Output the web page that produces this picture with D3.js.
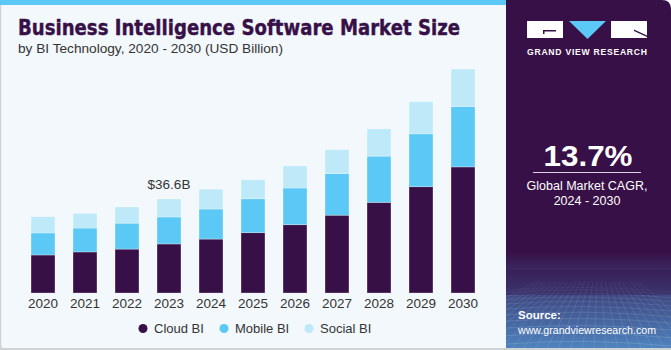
<!doctype html>
<html lang="en">

<head>
    <meta charset="utf-8">
    <script src="https://d3js.org/d3.v7.min.js"></script>
    <title>Business Intelligence Software Market Size</title>
    <style>
        body {
            margin: 0;
            background: #fff;
        }

        svg {
            display: block;
            font-family: "Liberation Sans", Arial, sans-serif;
        }
    </style>
</head>

<body>
    <svg id="svg" width="671" height="350"></svg>

    <script>
        // data (USD Billion)
        const years = ["2020", "2021", "2022", "2023", "2024", "2025", "2026", "2027", "2028", "2029", "2030"];
        const cloudBI = [14.8, 16.0, 17.1, 19.1, 21.0, 23.5, 26.6, 30.3, 35.3, 41.4, 49.1];
        const mobileBI = [8.6, 9.3, 10.1, 10.5, 11.7, 13.2, 14.3, 16.2, 18.0, 20.6, 23.5];
        const socialBI = [6.3, 5.7, 6.3, 7.0, 7.7, 7.4, 8.6, 9.3, 10.6, 12.5, 14.6];
        const seriesNames = ["Cloud BI", "Mobile BI", "Social BI"];
        const seriesColors = ["#371047", "#5bc8f5", "#bde9f9"];
        const callout = { year: "2023", label: "$36.6B" };

        const width = 671, height = 350;
        const panelX = 506;

        let svg = d3.select("#svg");

        // ---- backgrounds ----
        svg.append("rect")
            .attr("x", 0).attr("y", 0)
            .attr("width", panelX + 10).attr("height", height)
            .attr("fill", "#f3f8fc");
        svg.append("rect")
            .attr("x", 0).attr("y", 0)
            .attr("width", panelX).attr("height", 5)
            .attr("fill", "#5bc8f5");
        // faint border left and bottom
        svg.append("path")
            .attr("d", `M0.5,5 V345 Q0.5,349 5,349 H${panelX}`)
            .attr("fill", "none")
            .attr("stroke", "#cfd3d6")
            .attr("stroke-width", 1.5);

        // right dark panel
        let defs = svg.append("defs");
        let grad = defs.append("linearGradient")
            .attr("id", "panelGrad")
            .attr("x1", 0).attr("y1", 0).attr("x2", 0).attr("y2", 1);
        grad.append("stop").attr("offset", "0%").attr("stop-color", "#371047");
        grad.append("stop").attr("offset", "72%").attr("stop-color", "#371047");
        grad.append("stop").attr("offset", "82%").attr("stop-color", "#3d3f78");
        grad.append("stop").attr("offset", "100%").attr("stop-color", "#4f86c0");

        defs.append("clipPath").attr("id", "panelClip")
            .append("path")
            .attr("d", `M${panelX},0 H${width - 9} Q${width},0 ${width},9 V${height - 2} H${panelX} Z`);

        let panel = svg.append("g").attr("clip-path", "url(#panelClip)");
        panel.append("rect")
            .attr("x", panelX).attr("y", 0)
            .attr("width", width - panelX).attr("height", height)
            .attr("fill", "url(#panelGrad)");

        // the grid texture at the bottom of the panel
        let grid = panel.append("g")
            .attr("stroke", "#c9dcf5")
            .attr("stroke-width", 0.6)
            .attr("fill", "none");
        for (let i = 0; i < 14; i++) {
            let y = 290 + i * i * 0.32 + i * 2.2;
            grid.append("path")
                .attr("d", `M${panelX},${y} Q${panelX + 80},${y - 6} ${width},${y + 2}`)
                .attr("opacity", 0.12 + i * 0.02);
        }
        for (let i = -6; i < 20; i++) {
            let x0 = panelX + i * 12;
            grid.append("line")
                .attr("x1", 588 + (x0 - 588) * 0.35).attr("y1", 282)
                .attr("x2", x0 - 20).attr("y2", height)
                .attr("opacity", 0.22);
        }
        panel.append("rect")
            .attr("x", panelX).attr("y", 270)
            .attr("width", width - panelX).attr("height", 25)
            .attr("fill", "#371047")
            .attr("opacity", 0.35);

        // bottom gray line under the whole picture
        svg.append("rect")
            .attr("x", 0).attr("y", height - 2)
            .attr("width", width).attr("height", 2)
            .attr("fill", "#cfd3d6");

        // ---- logo ----
        let logo = svg.append("g");
        logo.append("rect").attr("x", 527).attr("y", 21).attr("width", 36).attr("height", 17).attr("fill", "#fff");
        logo.append("path").attr("d", "M543,30 H556 V31.5 H544.5 V34 H543 Z").attr("fill", "#371047");
        logo.append("path").attr("d", "M569,21 L606,21 L587.5,39 Z").attr("fill", "#5bc8f5");
        logo.append("rect").attr("x", 611).attr("y", 21).attr("width", 36).attr("height", 17).attr("fill", "#fff");
        logo.append("path").attr("d", "M634,29.5 L647,35.5 V37 L634,31 Z").attr("fill", "#371047");
        logo.append("text")
            .attr("x", 587).attr("y", 55)
            .attr("text-anchor", "middle")
            .attr("fill", "#fff")
            .attr("font-size", 8.6)
            .attr("font-weight", "bold")
            .attr("textLength", 120)
            .attr("lengthAdjust", "spacing")
            .text("GRAND VIEW RESEARCH");

        // ---- CAGR block ----
        svg.append("text")
            .attr("x", 588).attr("y", 166)
            .attr("text-anchor", "middle")
            .attr("fill", "#fff")
            .attr("font-size", 30)
            .attr("font-weight", "bold")
            .attr("textLength", 89)
            .attr("lengthAdjust", "spacingAndGlyphs")
            .text("13.7%");
        svg.append("line")
            .attr("x1", 533).attr("x2", 641)
            .attr("y1", 172.5).attr("y2", 172.5)
            .attr("stroke", "#d8d0e0").attr("stroke-width", 1);
        svg.append("text")
            .attr("x", 587).attr("y", 190)
            .attr("text-anchor", "middle")
            .attr("fill", "#fff")
            .attr("font-size", 12.5)
            .text("Global Market CAGR,");
        svg.append("text")
            .attr("x", 587).attr("y", 205)
            .attr("text-anchor", "middle")
            .attr("fill", "#fff")
            .attr("font-size", 12.5)
            .text("2024 - 2030");

        svg.append("text")
            .attr("x", 518).attr("y", 319)
            .attr("fill", "#fff")
            .attr("font-size", 11.5)
            .attr("font-weight", "bold")
            .text("Source:");
        svg.append("text")
            .attr("x", 518).attr("y", 334)
            .attr("fill", "#fff")
            .attr("font-size", 11.5)
            .attr("textLength", 138)
            .attr("lengthAdjust", "spacingAndGlyphs")
            .text("www.grandviewresearch.com");

        // ---- titles ----
        svg.append("text")
            .attr("x", 18).attr("y", 35)
            .attr("fill", "#371047")
            .attr("font-size", 20.5)
            .attr("font-weight", "900")
            .attr("font-family", "'DejaVu Sans', sans-serif")
            .attr("stroke", "#371047")
            .attr("stroke-width", 0.4)
            .attr("textLength", 442)
            .attr("lengthAdjust", "spacingAndGlyphs")
            .text("Business Intelligence Software Market Size");
        svg.append("text")
            .attr("x", 18).attr("y", 53)
            .attr("fill", "#333")
            .attr("font-size", 13)
            .attr("textLength", 265)
            .attr("lengthAdjust", "spacingAndGlyphs")
            .text("by BI Technology, 2020 - 2030 (USD Billion)");

        // ---- stacked bars ----
        let table = years.map((y, i) => ({
            year: y,
            "Cloud BI": cloudBI[i],
            "Mobile BI": mobileBI[i],
            "Social BI": socialBI[i]
        }));
        let stacked = d3.stack().keys(seriesNames)(table);

        let xScale = d3.scaleBand()
            .domain(years)
            .range([22, 484])
            .paddingInner(0.43)
            .paddingOuter(0.215);
        let yScale = d3.scaleLinear()
            .domain([0, 100])
            .range([293, 36.2]);
        let zScale = d3.scaleOrdinal().domain(seriesNames).range(seriesColors);

        let barG = svg.append("g");
        barG.selectAll("g")
            .data(stacked)
            .join("g")
            .attr("fill", d => zScale(d.key))
            .selectAll("rect")
            .data(d => d)
            .join("rect")
            .attr("x", d => xScale(d.data.year))
            .attr("y", d => yScale(d[1]))
            .attr("width", xScale.bandwidth())
            .attr("height", d => yScale(d[0]) - yScale(d[1]))
            .attr("stroke", "#ffffff")
            .attr("stroke-opacity", 0.35)
            .attr("stroke-width", 0.8);

        // callout above 2023
        let cIdx = years.indexOf(callout.year);
        let cTotal = cloudBI[cIdx] + mobileBI[cIdx] + socialBI[cIdx];
        svg.append("text")
            .attr("x", xScale(callout.year) + xScale.bandwidth() / 2)
            .attr("y", yScale(cTotal) - 10)
            .attr("text-anchor", "middle")
            .attr("fill", "#333")
            .attr("font-size", 13.5)
            .text(callout.label);

        // x axis labels
        let xAxis = svg.append("g")
            .attr("transform", "translate(0,293)")
            .call(d3.axisBottom(xScale).tickSize(0).tickPadding(5));
        xAxis.select(".domain").remove();
        xAxis.selectAll("text")
            .attr("fill", "#333")
            .attr("font-size", 13.5)
            .attr("font-family", "'Liberation Sans', Arial, sans-serif");

        // ---- legend ----
        let legendX = [143, 224, 309];
        let legend = svg.append("g");
        seriesNames.forEach((name, i) => {
            legend.append("circle")
                .attr("cx", legendX[i]).attr("cy", 328.5)
                .attr("r", 4.5)
                .attr("fill", zScale(name));
            legend.append("text")
                .attr("x", legendX[i] + 11).attr("y", 333)
                .attr("fill", "#333")
                .attr("font-size", 13)
                .text(name);
        });
    </script>
</body>

</html>
